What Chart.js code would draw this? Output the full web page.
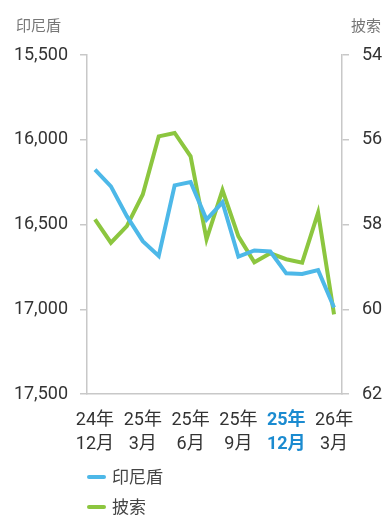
<!DOCTYPE html>
<html lang="zh-Hant">
<head>
<meta charset="utf-8">
<script src="https://cdn.jsdelivr.net/npm/chart.js@4.4.1/dist/chart.umd.min.js"></script>
<style>
  html, body { margin: 0; padding: 0; background: #fff; }
  #wrap { width: 382px; height: 516px; }
</style>
</head>
<body>
<div id="wrap"><canvas id="fx" width="382" height="516"></canvas></div>
<script>
// 月份（每月一點，季月標示）
const months = ['24年12月', '25年1月', '25年2月', '25年3月', '25年4月', '25年5月', '25年6月',
  '25年7月', '25年8月', '25年9月', '25年10月', '25年11月', '25年12月', '26年1月', '26年2月', '26年3月'];
const shownMonths = ['24年12月', '25年3月', '25年6月', '25年9月', '25年12月', '26年3月'];
const highlightMonth = '25年12月';

// 兌美元匯率
const idrValues = [16176, 16275, 16451, 16598, 16686, 16269, 16249, 16471, 16369, 16690,
  16653, 16659, 16788, 16792, 16769, 16990];
const phpValues = [57.88, 58.43, 58.04, 57.29, 55.92, 55.84, 56.39, 58.35, 57.19, 58.28,
  58.89, 58.68, 58.82, 58.90, 57.72, 60.12];

const idrTicks = [15500, 16000, 16500, 17000, 17500];
const phpTicks = [54, 56, 58, 60, 62];

const seriesNames = ['印尼盾', '披索'];
const axisTitles = ['印尼盾', '披索'];

const BLUE = '#4db8e8';
const GREEN = '#8cc63f';
const HILITE = '#1b8bd0';
const TEXT = '#333333';
const AXIS = '#c8c8c8';
const NUM_FONT = "Roboto, 'Noto Sans CJK TC', sans-serif";
const CJK_FONT = "'Noto Sans CJK TC', 'Noto Sans', sans-serif";

function splitMonth(label) {
  const m = /^(\d+年)(.+)$/.exec(label);
  return m ? [m[1], m[2]] : label;
}

// 軸標題（左上、右上）
const axisTitlePlugin = {
  id: 'axisTitles',
  afterDraw(chart) {
    const ctx = chart.ctx;
    ctx.save();
    ctx.fillStyle = '#777777';
    ctx.font = '15px ' + CJK_FONT;
    ctx.textBaseline = 'middle';
    ctx.textAlign = 'left';
    ctx.fillText(axisTitles[0], 16, 25);
    ctx.textAlign = 'right';
    ctx.fillText(axisTitles[1], chart.width - 1, 25);
    ctx.restore();
  }
};

// 直排圖例
const stackedLegend = {
  id: 'stackedLegend',
  afterDraw(chart) {
    const ctx = chart.ctx;
    const x0 = chart.chartArea.left;
    ctx.save();
    chart.data.datasets.forEach(function (ds, i) {
      const y = chart.chartArea.bottom + 83 + i * 30;
      ctx.strokeStyle = ds.borderColor;
      ctx.lineWidth = 4;
      ctx.lineCap = 'round';
      ctx.beginPath();
      ctx.moveTo(x0 + 2, y);
      ctx.lineTo(x0 + 17, y);
      ctx.stroke();
      ctx.fillStyle = '#444444';
      ctx.font = '17px ' + CJK_FONT;
      ctx.textAlign = 'left';
      ctx.textBaseline = 'middle';
      ctx.fillText(ds.label, x0 + 25, y);
    });
    ctx.restore();
  }
};

new Chart(document.getElementById('fx'), {
  type: 'line',
  data: {
    labels: months,
    datasets: [{
      label: seriesNames[0],
      data: idrValues,
      yAxisID: 'yIdr',
      borderColor: BLUE,
      borderWidth: 4,
      pointRadius: 0,
      tension: 0,
      fill: false
    }, {
      label: seriesNames[1],
      data: phpValues,
      yAxisID: 'yPhp',
      borderColor: GREEN,
      borderWidth: 4,
      pointRadius: 0,
      tension: 0,
      fill: false
    }]
  },
  options: {
    responsive: false,
    devicePixelRatio: 1,
    animation: false,
    layout: { padding: { top: 55, left: 0, right: 0, bottom: 62 } },
    plugins: {
      legend: { display: false },
      tooltip: { enabled: false }
    },
    scales: {
      x: {
        offset: true,
        grid: { display: false, drawTicks: false },
        border: { display: true, color: AXIS, width: 1.5 },
        afterFit(scale) { scale.height = 60; },
        ticks: {
          autoSkip: false,
          maxRotation: 0,
          padding: 14,
          font: function (c) {
            const bold = months[c.index] === highlightMonth;
            return { family: NUM_FONT, size: 18, lineHeight: '24px', weight: bold ? 'bold' : 'normal' };
          },
          color: function (c) { return months[c.index] === highlightMonth ? HILITE : TEXT; },
          callback: function (v, i) {
            const label = months[i];
            return shownMonths.includes(label) ? splitMonth(label) : '';
          }
        }
      },
      yIdr: {
        position: 'left',
        reverse: true,
        min: 15500,
        max: 17500,
        afterBuildTicks(scale) { scale.ticks = idrTicks.map(v => ({ value: v })); },
        afterFit(scale) { scale.width = 87; },
        grid: { drawOnChartArea: false, drawTicks: true, tickLength: 7, color: AXIS, lineWidth: 1.5 },
        border: { display: true, color: AXIS, width: 1.5 },
        ticks: {
          padding: 12,
          color: TEXT,
          font: { family: NUM_FONT, size: 18 },
          callback: v => Number(v).toLocaleString('en-US')
        }
      },
      yPhp: {
        position: 'right',
        reverse: true,
        min: 54,
        max: 62,
        afterBuildTicks(scale) { scale.ticks = phpTicks.map(v => ({ value: v })); },
        afterFit(scale) { scale.width = 40; },
        grid: { drawOnChartArea: false, drawTicks: true, tickLength: 7, color: AXIS, lineWidth: 1.5 },
        border: { display: true, color: AXIS, width: 1.5 },
        ticks: {
          padding: 13,
          color: TEXT,
          font: { family: NUM_FONT, size: 18 },
          callback: v => String(v)
        }
      }
    }
  },
  plugins: [axisTitlePlugin, stackedLegend]
});
</script>
</body>
</html>
